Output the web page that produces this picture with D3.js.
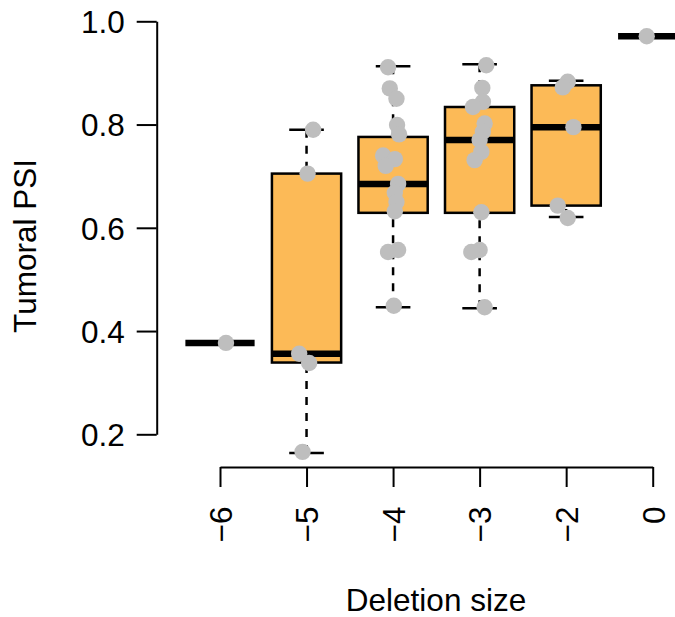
<!DOCTYPE html>
<html>
<head>
<meta charset="utf-8">
<script src="https://cdn.jsdelivr.net/npm/d3@7"></script>
<style>
  html, body { margin: 0; padding: 0; background: #fff; }
  svg { display: block; }
  text { font-family: "Liberation Sans", Arial, sans-serif; fill: #000; }
</style>
</head>
<body>
<div id="chart"></div>
<script>
// ---- data ----
const categories = ["−6", "−5", "−4", "−3", "−2", "0"];
const whiskerLow  = [0.377, 0.164, 0.446, 0.444, 0.621, 0.971];
const q1          = [0.377, 0.339, 0.629, 0.629, 0.643, 0.971];
const medians     = [0.377, 0.356, 0.685, 0.770, 0.795, 0.971];
const q3          = [0.377, 0.705, 0.776, 0.834, 0.876, 0.971];
const whiskerHigh = [0.377, 0.790, 0.913, 0.917, 0.885, 0.971];

// jittered points: group index, value, horizontal jitter (in category units)
const pointGroup = [0,
  1,1,1,1,1,
  2,2,2,2,2,2,2,2,2,2,2,2,2,2,2,
  3,3,3,3,3,3,3,3,3,3,3,3,3,
  4,4,4,4,4,
  5];
const pointValue = [0.377,
  0.790,0.705,0.356,0.338,0.166,
  0.911,0.870,0.850,0.799,0.781,0.740,0.733,0.720,0.685,0.668,0.650,0.632,0.557,0.553,0.449,
  0.915,0.871,0.844,0.834,0.802,0.786,0.770,0.747,0.731,0.630,0.557,0.553,0.446,
  0.883,0.872,0.795,0.643,0.619,
  0.971];
const pointJitter = [0.069,
  0.076,0.012,-0.085,0.030,-0.046,
  -0.058,-0.038,0.039,0.046,0.069,-0.115,0.020,-0.085,0.058,0.020,0.039,0.020,0.058,-0.058,0.008,
  0.077,0.031,0.038,-0.077,0.058,0.038,0.000,0.020,-0.058,0.020,0.000,-0.096,0.058,
  0.018,-0.039,0.084,-0.097,0.018,
  -0.069];
const yTicks = [0.2, 0.4, 0.6, 0.8, 1.0];

// ---- layout ----
const W = 675, H = 617;
const boxFill = "#FCBA57";
const pointColor = "#BEBEBE";
const boxWex = 0.8;
const fontSize = "31.5px";

const svg = d3.select("#chart").append("svg").attr("width", W).attr("height", H);

const x = d3.scaleLinear().domain([1, 6]).range([220, 652.7]);
const y = d3.scaleLinear().domain([0.2, 1.0]).range([434.3, 21.3]);
const unit = x(2) - x(1);
const bw = unit * boxWex;

const groups = categories.map((c, i) => ({
  i, c, lo: whiskerLow[i], q1: q1[i], med: medians[i], q3: q3[i], hi: whiskerHigh[i]
}));

const g = svg.append("g");

// whiskers (dashed)
g.selectAll(".wl").data(groups).join("line")
  .attr("x1", d => x(d.i + 1)).attr("x2", d => x(d.i + 1))
  .attr("y1", d => y(d.lo)).attr("y2", d => y(d.q1))
  .attr("stroke", "#000").attr("stroke-width", 2.5).attr("stroke-dasharray", "8,8");
g.selectAll(".wh").data(groups).join("line")
  .attr("x1", d => x(d.i + 1)).attr("x2", d => x(d.i + 1))
  .attr("y1", d => y(d.hi)).attr("y2", d => y(d.q3))
  .attr("stroke", "#000").attr("stroke-width", 2.5).attr("stroke-dasharray", "8,8");
// staples
["lo", "hi"].forEach(k => {
  g.selectAll(".st" + k).data(groups.filter(d => d.hi > d.lo)).join("line")
    .attr("x1", d => x(d.i + 1) - bw / 4).attr("x2", d => x(d.i + 1) + bw / 4)
    .attr("y1", d => y(d[k])).attr("y2", d => y(d[k]))
    .attr("stroke", "#000").attr("stroke-width", 2.5);
});
// boxes
g.selectAll(".box").data(groups).join("rect")
  .attr("x", d => x(d.i + 1) - bw / 2)
  .attr("width", bw)
  .attr("y", d => y(d.q3))
  .attr("height", d => y(d.q1) - y(d.q3))
  .attr("fill", boxFill).attr("stroke", "#000").attr("stroke-width", 2.5);
// medians
g.selectAll(".med").data(groups).join("line")
  .attr("x1", d => x(d.i + 1) - bw / 2).attr("x2", d => x(d.i + 1) + bw / 2)
  .attr("y1", d => y(d.med)).attr("y2", d => y(d.med))
  .attr("stroke", "#000").attr("stroke-width", 6.5);

// points
g.selectAll(".pt").data(pointValue.map((v, k) => ({ v, gi: pointGroup[k], j: pointJitter[k] })))
  .join("circle")
  .attr("cx", d => x(d.gi + 1 + d.j))
  .attr("cy", d => y(d.v))
  .attr("r", 8.2)
  .attr("fill", pointColor);

// y axis
const yAxis = svg.append("g").attr("transform", "translate(156.7,0)")
  .call(d3.axisLeft(y).tickValues(yTicks).tickFormat(d3.format(".1f"))
    .tickSize(20).tickSizeOuter(0).tickPadding(12));
yAxis.selectAll("path, line").attr("stroke", "#000").attr("stroke-width", 2);
yAxis.selectAll("text").style("font-size", fontSize).attr("dy", "0.36em")
  .style("font-family", "'Liberation Sans', Arial, sans-serif");

// x axis
const xAxis = svg.append("g").attr("transform", "translate(0,467)")
  .call(d3.axisBottom(x).tickValues(d3.range(1, categories.length + 1))
    .tickFormat(d => categories[d - 1]).tickSize(20).tickSizeOuter(0));
xAxis.selectAll("path, line").attr("stroke", "#000").attr("stroke-width", 2);
xAxis.selectAll("text")
  .attr("transform", "rotate(-90)")
  .attr("x", -39.5).attr("y", 0).attr("dy", "0.36em")
  .style("text-anchor", "end")
  .style("font-size", fontSize)
  .style("font-family", "'Liberation Sans', Arial, sans-serif");

// titles
svg.append("text").attr("x", 436).attr("y", 611)
  .attr("text-anchor", "middle").style("font-size", fontSize).text("Deletion size");
svg.append("text").attr("transform", "translate(36,246) rotate(-90)")
  .attr("text-anchor", "middle").style("font-size", fontSize).text("Tumoral PSI");
</script>
</body>
</html>
